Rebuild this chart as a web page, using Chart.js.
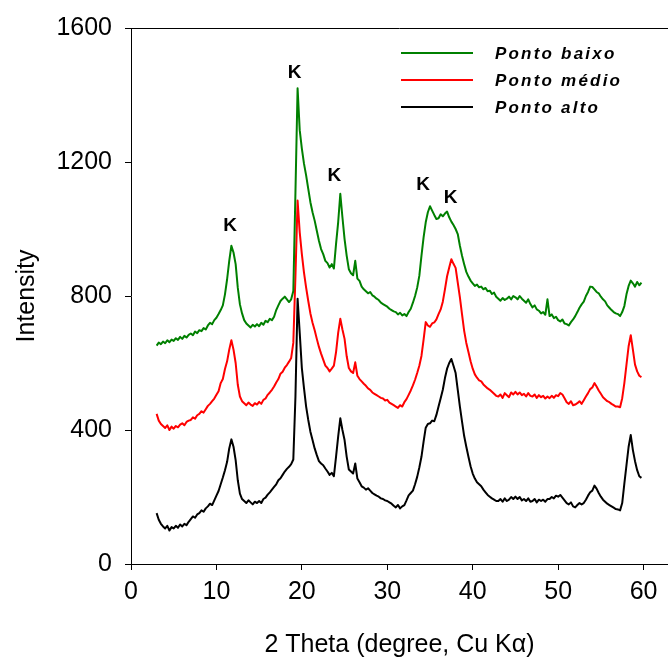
<!DOCTYPE html>
<html><head><meta charset="utf-8">
<script src="https://cdn.jsdelivr.net/npm/chart.js@4/dist/chart.umd.min.js"></script>
<style>html,body{margin:0;padding:0;background:#fff;overflow:hidden}#wrap{width:668px;height:663px;position:relative}</style>
</head><body><div id="wrap"><canvas id="c" width="668" height="663"></canvas></div>
<script>
// scan angles: 3.00° to 59.75° in 0.25° steps (8 values per row below = 2°)
const scanStart = 3, scanStep = 0.25, scanCount = 228;
const twoTheta = Array.from({length: scanCount}, (_, i) => scanStart + i * scanStep);

const pontoBaixo = [
652,661,656,664,659,668,662,670,
666,674,669,678,672,681,676,684,
688,683,694,689,698,695,704,700,
712,720,716,728,735,746,758,772,
805,850,905,950,930,895,825,775,
748,728,718,712,706,714,709,716,
710,720,714,726,722,732,728,738,
758,772,785,792,798,790,782,790,
815,1110,1420,1295,1240,1195,1160,1120,
1080,1050,1025,995,965,940,925,905,
898,885,895,882,955,1020,1105,1035,
970,920,880,868,862,905,852,845,
828,820,814,808,812,802,798,792,
788,780,776,772,768,762,758,754,
752,745,750,742,746,740,752,762,
780,800,825,860,920,975,1020,1050,
1068,1055,1042,1030,1032,1044,1038,1046,
1052,1035,1022,1012,1000,985,950,920,
895,872,858,846,838,830,834,826,
828,820,824,814,816,806,810,798,
792,786,794,788,792,798,790,800,
796,790,800,792,786,780,790,776,
766,772,760,756,748,752,744,790,
740,745,734,738,728,724,730,718,
716,712,722,730,740,752,765,775,
783,800,812,828,827,820,812,808,
798,790,784,772,765,758,752,748,
746,740,752,770,805,830,846,838,
828,842,832,840];

const pontoMedio = [
448,428,418,412,406,414,400,410,
404,412,408,416,420,414,424,428,
430,438,434,444,448,456,452,462,
472,478,486,494,505,516,540,552,
582,605,640,668,640,600,535,500,
486,480,474,482,476,472,480,476,
484,478,490,494,505,512,520,530,
542,552,568,574,586,594,604,615,
660,860,1085,990,925,870,825,785,
748,720,698,672,648,628,610,592,
585,575,583,592,632,690,732,700,
672,620,585,575,570,602,562,552,
545,538,532,524,520,512,508,504,
500,496,494,488,490,482,478,474,
470,466,474,470,483,492,505,518,
533,550,570,592,621,670,722,712,
708,718,721,730,746,760,783,820,
859,885,910,896,884,840,796,745,
696,660,633,605,583,566,556,548,
545,536,530,524,520,514,508,502,
500,506,496,510,504,498,512,506,
514,506,512,504,508,500,510,502,
500,506,496,504,498,502,494,500,
495,502,496,504,501,510,506,495,
483,478,486,474,476,480,486,478,
489,500,510,522,527,540,530,518,
508,498,492,486,483,478,474,470,
470,468,495,540,595,650,683,640,
595,575,562,558];

const pontoAlto = [
152,132,120,112,106,114,100,110,
106,114,108,118,112,120,116,126,
134,142,138,148,152,160,156,166,
172,180,176,190,204,218,238,258,
280,305,345,372,350,310,250,210,
194,188,182,190,184,178,186,182,
188,182,194,198,207,214,222,230,
238,250,256,266,276,284,290,298,
312,500,792,690,585,525,470,430,
395,370,345,325,307,300,295,285,
276,266,272,262,320,380,435,400,
370,320,282,276,270,300,255,244,
232,228,222,226,219,212,208,204,
201,196,194,190,188,184,180,174,
169,176,166,172,176,190,205,212,
219,238,260,288,320,365,407,418,
420,428,426,445,470,495,520,555,
583,600,612,592,570,520,470,425,
382,350,320,292,270,255,244,238,
232,222,214,206,201,196,192,188,
188,194,186,196,188,192,200,194,
201,194,200,190,194,188,196,186,
188,194,184,192,188,192,186,194,
194,200,196,204,201,206,198,190,
182,178,184,172,169,176,182,178,
182,192,204,214,219,234,225,212,
201,192,186,180,176,172,168,164,
163,160,182,240,295,350,385,340,
307,280,262,257];

const seriesNames = ['Ponto baixo','Ponto médio','Ponto alto'];
const seriesColors = ['#008000','#ff0000','#000000'];
const xTicks = [0,10,20,30,40,50,60];
const yTicks = [0,400,800,1200,1600];
const peakLabelX = [11.6,19.15,23.8,34.2,37.4];
const peakLabelY = [1011,1466,1159,1131,1094];
const peakLabelText = ['K','K','K','K','K'];
const xTitle = '2 Theta (degree, Cu K\u03b1)';
const yTitle = 'Intensity';

const FONT = '"Liberation Sans", Arial, sans-serif';
const allSeries = [pontoBaixo, pontoMedio, pontoAlto];

const datasets = allSeries.map((arr, i) => ({
  label: seriesNames[i],
  data: arr.map((y, j) => ({x: twoTheta[j], y: y})),
  borderColor: seriesColors[i],
  backgroundColor: seriesColors[i],
  borderWidth: 2,
  borderJoinStyle: 'round',
  pointRadius: 0,
  tension: 0,
  fill: false
}));

const extras = {
  id: 'extras',
  afterDatasetsDraw(chart) {
    const ctx = chart.ctx, a = chart.chartArea;
    const xs = chart.scales.x, ys = chart.scales.y;
    ctx.save();
    ctx.strokeStyle = '#000'; ctx.lineWidth = 1;
    ctx.beginPath(); ctx.moveTo(a.left, Math.round(a.top) + 0.5); ctx.lineTo(a.right, Math.round(a.top) + 0.5); ctx.stroke();
    ctx.fillStyle = '#000';
    ctx.font = 'bold 19px ' + FONT;
    ctx.textAlign = 'center'; ctx.textBaseline = 'middle';
    peakLabelText.forEach((t, i) => ctx.fillText(t, xs.getPixelForValue(peakLabelX[i]), ys.getPixelForValue(peakLabelY[i])));
    ctx.textAlign = 'left';
    ctx.font = 'italic bold 17px ' + FONT;
    try { ctx.letterSpacing = '2.2px'; } catch (e) {}
    seriesNames.forEach((n, i) => {
      const y = 53 + i * 27;
      ctx.strokeStyle = seriesColors[i]; ctx.lineWidth = 2;
      ctx.beginPath(); ctx.moveTo(401, y); ctx.lineTo(473, y); ctx.stroke();
      ctx.fillStyle = '#000';
      ctx.fillText(n, 495, y + 1);
    });
    ctx.restore();
  }
};

new Chart(document.getElementById('c'), {
  type: 'line',
  data: { datasets: datasets },
  options: {
    responsive: false,
    animation: false,
    devicePixelRatio: 1,
    layout: { padding: { top: 25, right: 0, bottom: 0, left: 0 } },
    plugins: { legend: { display: false }, tooltip: { enabled: false } },
    scales: {
      x: {
        type: 'linear', min: 0, max: 62.86,
        afterBuildTicks: s => { s.ticks = xTicks.map(v => ({value: v})); },
        afterFit: s => { s.height = 99; },
        grid: { drawOnChartArea: false, drawTicks: true, tickLength: 6, color: '#000' },
        border: { color: '#000', width: 1 },
        ticks: { color: '#000', font: { family: FONT, size: 25 }, padding: 7, maxRotation: 0, callback: v => String(v) },
        title: { display: true, text: xTitle, color: '#000', font: { family: FONT, size: 25 }, padding: { top: 0, bottom: 3 } }
      },
      y: {
        type: 'linear', min: 0, max: 1600,
        afterBuildTicks: s => { s.ticks = yTicks.map(v => ({value: v})); },
        afterFit: s => { s.width = 131; },
        grid: { drawOnChartArea: false, drawTicks: true, tickLength: 6, color: '#000' },
        border: { color: '#000', width: 1 },
        ticks: { color: '#000', font: { family: FONT, size: 25 }, padding: 13, callback: v => String(v) },
        title: { display: true, text: yTitle, color: '#000', font: { family: FONT, size: 25 }, padding: { top: 12, bottom: 0 } }
      }
    }
  },
  plugins: [extras]
});
</script></body></html>
